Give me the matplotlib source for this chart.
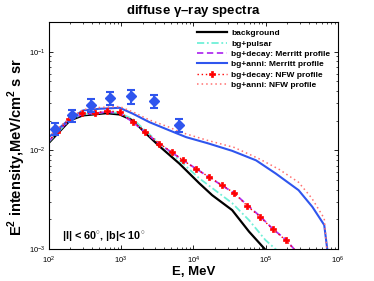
import matplotlib
matplotlib.use("Agg")
import matplotlib.pyplot as plt
from matplotlib.ticker import LogLocator, NullFormatter

# ---------------- data ----------------
# observed points (E in MeV, E^2 intensity)
obs_E = [122, 208, 385, 701, 1393, 2825, 6300]
obs_I = [0.0166, 0.0226, 0.0290, 0.0337, 0.0353, 0.0315, 0.0179]
obs_err = [0.0024, 0.0032, 0.0043, 0.0052, 0.0056, 0.0047, 0.0027]

# background
bg_E = [100, 198, 298, 632, 962, 1465, 2122, 3414, 6430, 12100, 18270, 34440, 59000, 97200, 120000]
bg_I = [0.0118, 0.0201, 0.0226, 0.0238, 0.0231, 0.0201, 0.0153, 0.0110, 0.00734, 0.00464, 0.00351, 0.00248, 0.00150, 0.00100, 0.00075]

# bg + pulsar
pul_E = [100, 198, 298, 632, 962, 1465, 2122, 3414, 6430, 12100, 34440, 59000, 99600, 152800]
pul_I = [0.0121, 0.0206, 0.0231, 0.0245, 0.0239, 0.0208, 0.0161, 0.0118, 0.00792, 0.00521, 0.00292, 0.00196, 0.00123, 0.00093]

# bg + decay: Merritt profile
dm_E = [100, 191, 289, 649, 961, 1452, 2173, 3412, 7311, 16630, 36800, 56000, 83750, 126500, 189000, 247000, 285000]
dm_I = [0.0123, 0.0201, 0.0231, 0.0245, 0.0239, 0.0194, 0.0152, 0.0116, 0.0079, 0.00533, 0.00368, 0.00278, 0.00215, 0.00159, 0.00125, 0.00100, 0.00085]

# bg + anni: Merritt profile
am_E = [100, 198, 301, 511, 962, 1469, 2484, 4722, 8000, 15870, 34440, 73700, 138000, 285000, 443000, 645000, 710000, 720000]
am_I = [0.0135, 0.0209, 0.0254, 0.0264, 0.0270, 0.0235, 0.0193, 0.0159, 0.0136, 0.0118, 0.00989, 0.00792, 0.00582, 0.00395, 0.00267, 0.00175, 0.00100, 0.00050]

# bg + decay: NFW profile
dn_E = [100, 130, 191, 289, 437, 649, 961, 1452, 2173, 3412, 5047, 7311, 11040, 16630, 24900, 36800, 56000, 83750, 126500, 189000, 280000]
dn_I = [0.0124, 0.0152, 0.0206, 0.0239, 0.0239, 0.0251, 0.0245, 0.0196, 0.0154, 0.0117, 0.0096, 0.0079, 0.00643, 0.00537, 0.00443, 0.00370, 0.00272, 0.00212, 0.00158, 0.00123, 0.00090]

# bg + anni: NFW profile
an_E = [100, 198, 301, 511, 962, 1469, 2484, 4722, 6430, 15870, 36800, 80600, 152800, 285000, 435000, 645000, 700000, 720000]
an_I = [0.0138, 0.0213, 0.0259, 0.0272, 0.0278, 0.0245, 0.0203, 0.0171, 0.0154, 0.0126, 0.0107, 0.00824, 0.00643, 0.00475, 0.00327, 0.00204, 0.00100, 0.00050]

labels = ["background", "bg+pulsar", "bg+decay: Merritt profile",
          "bg+anni: Merritt profile", "bg+decay: NFW profile", "bg+anni: NFW profile"]

# ---------------- plot ----------------
plt.rcParams['font.family'] = ['Liberation Sans', 'DejaVu Sans']
plt.rcParams['mathtext.fontset'] = 'custom'
plt.rcParams['mathtext.rm'] = 'Liberation Sans'
plt.rcParams['mathtext.bf'] = 'Liberation Sans:bold'

fig = plt.figure(figsize=(3.74, 2.81), dpi=100)
ax = fig.add_axes([48.5/374, 1-249/281, (338-48.5)/374, (249-22)/281])

ax.plot(bg_E, bg_I, color='black', lw=1.6, label=labels[0])
ax.plot(pul_E, pul_I, color='#70f0d8', lw=1.3, ls=(0, (4, 1.5, 1, 1.5)), label=labels[1])
ax.plot(dm_E, dm_I, color='#b030f0', lw=1.3, ls=(0, (3.5, 2)), label=labels[2])
ax.plot(am_E, am_I, color='#2f55ee', lw=1.5, label=labels[3])
ax.plot(dn_E, dn_I, color='red', lw=1.0, ls=(0, (1, 2)), marker='P', ms=5,
        mec='red', mfc='red', mew=0.5, markevery=list(range(1, len(dn_E) - 1)), label=labels[4])
ax.plot(an_E, an_I, color='#ff7070', lw=1.1, ls=(0, (1, 2)), label=labels[5])

ax.errorbar(obs_E, obs_I, yerr=obs_err, fmt='D', color='#2f55ee', ms=5,
            elinewidth=1.5, capsize=3, capthick=1.5, zorder=5)

ax.set_xscale('log')
ax.set_yscale('log')
ax.set_xlim(100, 1e6)
ax.set_ylim(1e-3, 0.2)

ax.tick_params(which='both', direction='in', top=True, right=True, labelsize=5.5)
ax.tick_params(axis='x', pad=4)
ax.tick_params(axis='y', pad=2)
ax.tick_params(which='major', length=3, width=0.6)
ax.tick_params(which='minor', length=1.6, width=0.5)
ax.xaxis.set_minor_locator(LogLocator(base=10, subs=range(2, 10), numticks=20))
ax.yaxis.set_minor_locator(LogLocator(base=10, subs=range(2, 10), numticks=20))
ax.xaxis.set_minor_formatter(NullFormatter())
ax.yaxis.set_minor_formatter(NullFormatter())
for s in ax.spines.values():
    s.set_linewidth(0.8)

ax.set_title(r"diffuse $\mathbf{\gamma}$–ray spectra", fontsize=9.5, fontweight='bold', pad=6)
ax.set_xlabel("E, MeV", fontsize=9.5, fontweight='bold', labelpad=0)
ax.set_ylabel(r"E$^{\mathbf{2}}$ intensity,MeV/cm$^{\mathbf{2}}$ s sr", fontsize=10.5, fontweight='bold')
ax.yaxis.set_label_coords(-0.072, 0.45)

ax.text(0.045, 0.045, r"|l| < 60$^{\circ}$, |b|< 10$^{\circ}$", transform=ax.transAxes,
        fontsize=7.8, fontweight='bold')

leg = ax.legend(loc='upper right', frameon=False, handlelength=3.6,
                handletextpad=0.5, labelspacing=0.3, borderaxespad=0.5,
                prop={'weight': 'bold', 'size': 6})

fig.savefig("out.png", dpi=100)
